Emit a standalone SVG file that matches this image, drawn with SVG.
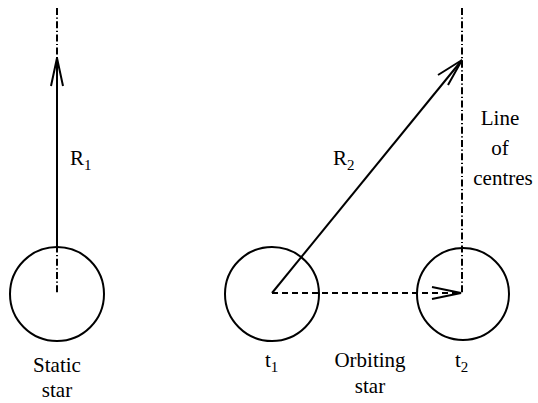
<svg xmlns="http://www.w3.org/2000/svg" width="538" height="403" viewBox="0 0 538 403">
<style>
.star{fill:none;stroke:#000;stroke-width:2}
.ln{fill:none;stroke:#000;stroke-width:2}
.dd{fill:none;stroke:#000;stroke-width:2;stroke-dasharray:7 2.5 1.2 2.5}
.da{fill:none;stroke:#000;stroke-width:2;stroke-dasharray:6 4}
.ah{fill:none;stroke:#000;stroke-width:2;stroke-linejoin:miter}
.t{font-family:'Liberation Serif','DejaVu Serif',serif;font-size:21px;fill:#000}
.sub{font-size:15px}
</style>
<rect width="538" height="403" fill="#fff"/>
<g id="static-star">
<circle class="star" cx="57" cy="294" r="47"/>
<text class="t" font-family="Liberation Serif" x="57" y="372" text-anchor="middle">Static</text>
<text class="t" font-family="Liberation Serif" x="57" y="397" text-anchor="middle">star</text>
</g>
<g id="star-t1">
<circle class="star" cx="272" cy="294" r="47"/>
<text class="t" font-family="Liberation Serif" x="265" y="367">t<tspan class="sub" dy="5">1</tspan></text>
</g>
<g id="star-t2">
<circle class="star" cx="463" cy="294" r="46"/>
<text class="t" font-family="Liberation Serif" x="455" y="367">t<tspan class="sub" dy="5">2</tspan></text>
</g>
<g id="orbiting-label">
<text class="t" font-family="Liberation Serif" x="370" y="367" text-anchor="middle">Orbiting</text>
<text class="t" font-family="Liberation Serif" x="370" y="393" text-anchor="middle">star</text>
</g>
<g id="line-of-centres-label">
<text class="t" font-family="Liberation Serif" x="500" y="125" text-anchor="middle">Line</text>
<text class="t" font-family="Liberation Serif" x="500" y="155" text-anchor="middle">of</text>
<text class="t" font-family="Liberation Serif" x="503" y="185" text-anchor="middle">centres</text>
</g>
<g id="connectors">
<line class="dd" x1="57" y1="8" x2="57" y2="294"/>
<line class="ln" x1="57" y1="247" x2="57" y2="58"/>
<polyline class="ah" points="51,86 57,58 63,86"/>
<text class="t" font-family="Liberation Serif" x="70" y="165">R<tspan class="sub" dy="5">1</tspan></text>
<line class="dd" x1="462" y1="8" x2="462" y2="293"/>
<line class="ln" x1="272" y1="293" x2="462" y2="60"/>
<polyline class="ah" points="438,75 462,60 448,85"/>
<text class="t" font-family="Liberation Serif" x="333" y="165">R<tspan class="sub" dy="5">2</tspan></text>
<line class="da" x1="272" y1="293" x2="460" y2="293"/>
<polyline class="ah" points="432,287 461,293 432,299"/>
</g>
</svg>
